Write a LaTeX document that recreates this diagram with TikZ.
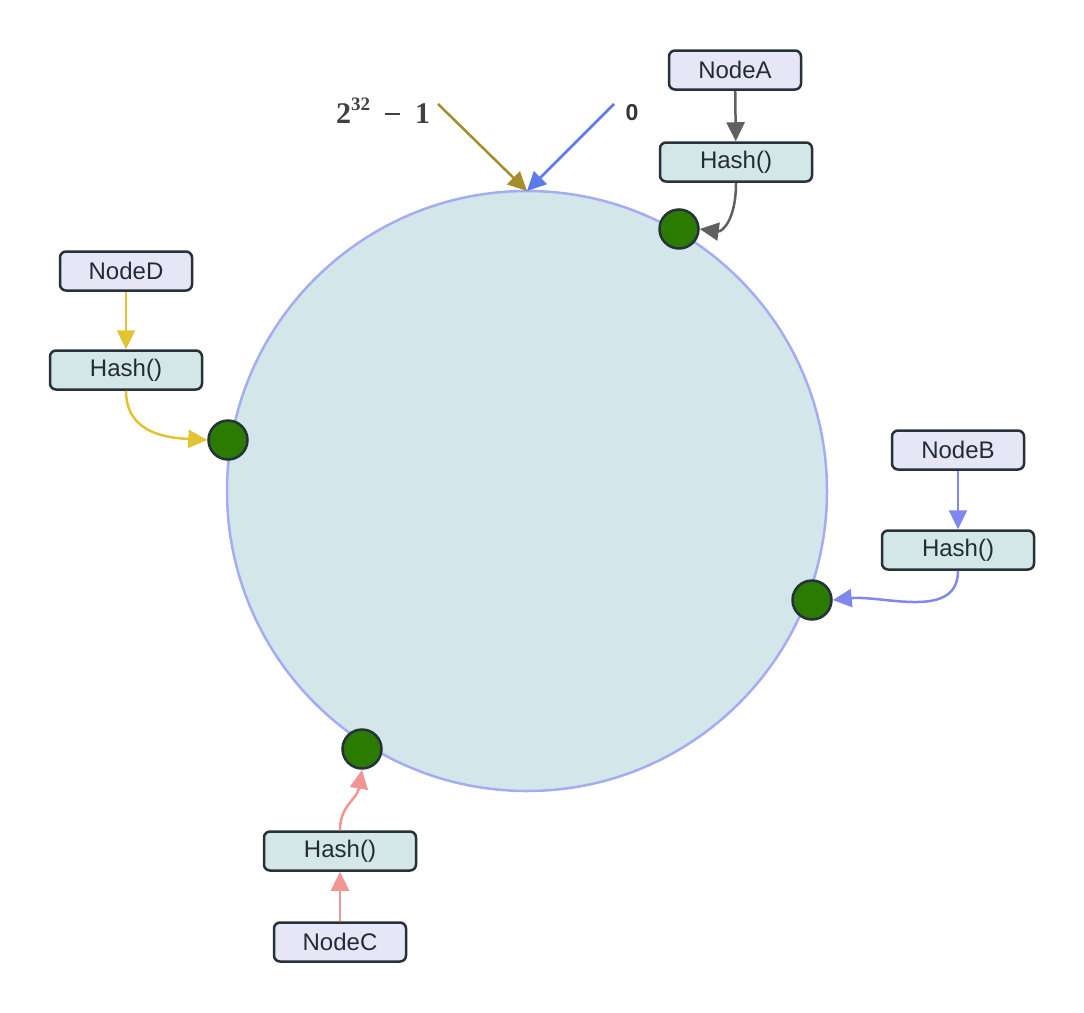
\documentclass[tikz,border=0pt]{standalone}
\usepackage{fontspec}
\setmainfont{Liberation Sans}
\newfontfamily\serifb{Liberation Serif}
\usetikzlibrary{arrows.meta}
\definecolor{ringfill}{HTML}{D3E7EA}
\definecolor{ringdraw}{HTML}{A4ACF2}
\definecolor{nodefill}{HTML}{E6E6F7}
\definecolor{hashfill}{HTML}{D3E7E7}
\definecolor{boxdraw}{HTML}{27313A}
\definecolor{dotfill}{HTML}{2A7B00}
\definecolor{cA}{HTML}{606060}
\definecolor{cB}{HTML}{8087EE}
\definecolor{cC}{HTML}{F09494}
\definecolor{cD}{HTML}{E2C333}
\definecolor{colive}{HTML}{A48E2A}
\definecolor{cblue}{HTML}{5B7BEA}
\tikzset{
  box/.style={draw=boxdraw,line width=2.5pt,rounded corners=6pt,minimum height=39pt,inner sep=0pt,font=\fontsize{24}{26}\selectfont,text=boxdraw!90!black},
  nodebox/.style={box,fill=nodefill,minimum width=132pt},
  hashbox/.style={box,fill=hashfill,minimum width=152pt},
  hdot/.style={circle,draw=boxdraw,line width=2.5pt,fill=dotfill,minimum size=39pt,inner sep=0pt},
  conn/.style={line width=2.5pt,-{Triangle[length=19pt,width=18pt]}},
}
\begin{document}
\begin{tikzpicture}[x=1pt,y=-1pt]
\useasboundingbox (0,0) rectangle (1084,1012);
% ring
\draw[fill=ringfill,draw=ringdraw,line width=2.5pt] (527,491) circle[radius=300];
\coordinate (top) at (527,191);
% labels at top
\node[font=\fontsize{30}{32}\selectfont\serifb\bfseries,text=black!75,inner sep=0pt] (lmax) at (383,111) {2\raisebox{0.42em}{\fontsize{19}{20}\selectfont 32}\enspace\rule[0.27em]{0.5em}{0.09em}\enspace 1};
\node[font=\fontsize{23}{25}\selectfont\bfseries,text=black!80] (lzero) at (632,113) {0};
\coordinate (smax) at (438,104);
\coordinate (szero) at (614,104);
\draw[conn,draw=colive] (smax) -- (top);
\draw[conn,draw=cblue] (szero) -- (top);
% boxes
\node[nodebox] (nA) at (735,70) {NodeA};
\node[hashbox] (hA) at (736,162) {Hash()};
\node[nodebox] (nD) at (126,271) {NodeD};
\node[hashbox] (hD) at (126,370) {Hash()};
\node[nodebox] (nB) at (958,450) {NodeB};
\node[hashbox] (hB) at (958,550) {Hash()};
\node[hashbox] (hC) at (340,851) {Hash()};
\node[nodebox] (nC) at (340,942) {NodeC};
% dots
\node[hdot] (dA) at (679,229) {};
\node[hdot] (dD) at (228,440) {};
\node[hdot] (dB) at (812,600) {};
\node[hdot] (dC) at (362,749) {};
% connectors
\draw[conn,draw=cA] (nA) -- (hA);
\draw[conn,draw=cA] (hA.south) .. controls +(0,38) and +(22,3) .. (dA.east);
\draw[conn,draw=cD] (nD) -- (hD);
\draw[conn,draw=cD] (hD.south) .. controls +(0,45) and +(-35,-2) .. (dD.west);
\draw[conn,draw=cB] (nB) -- (hB);
\draw[conn,draw=cB] (hB.south) .. controls +(0,50) and +(50,-5) .. (dB.east);
\draw[conn,draw=cC] (nC) -- (hC);
\draw[conn,draw=cC] (hC.north) .. controls +(0,-25) and +(-5,30) .. (dC.south);
\end{tikzpicture}
\end{document}
